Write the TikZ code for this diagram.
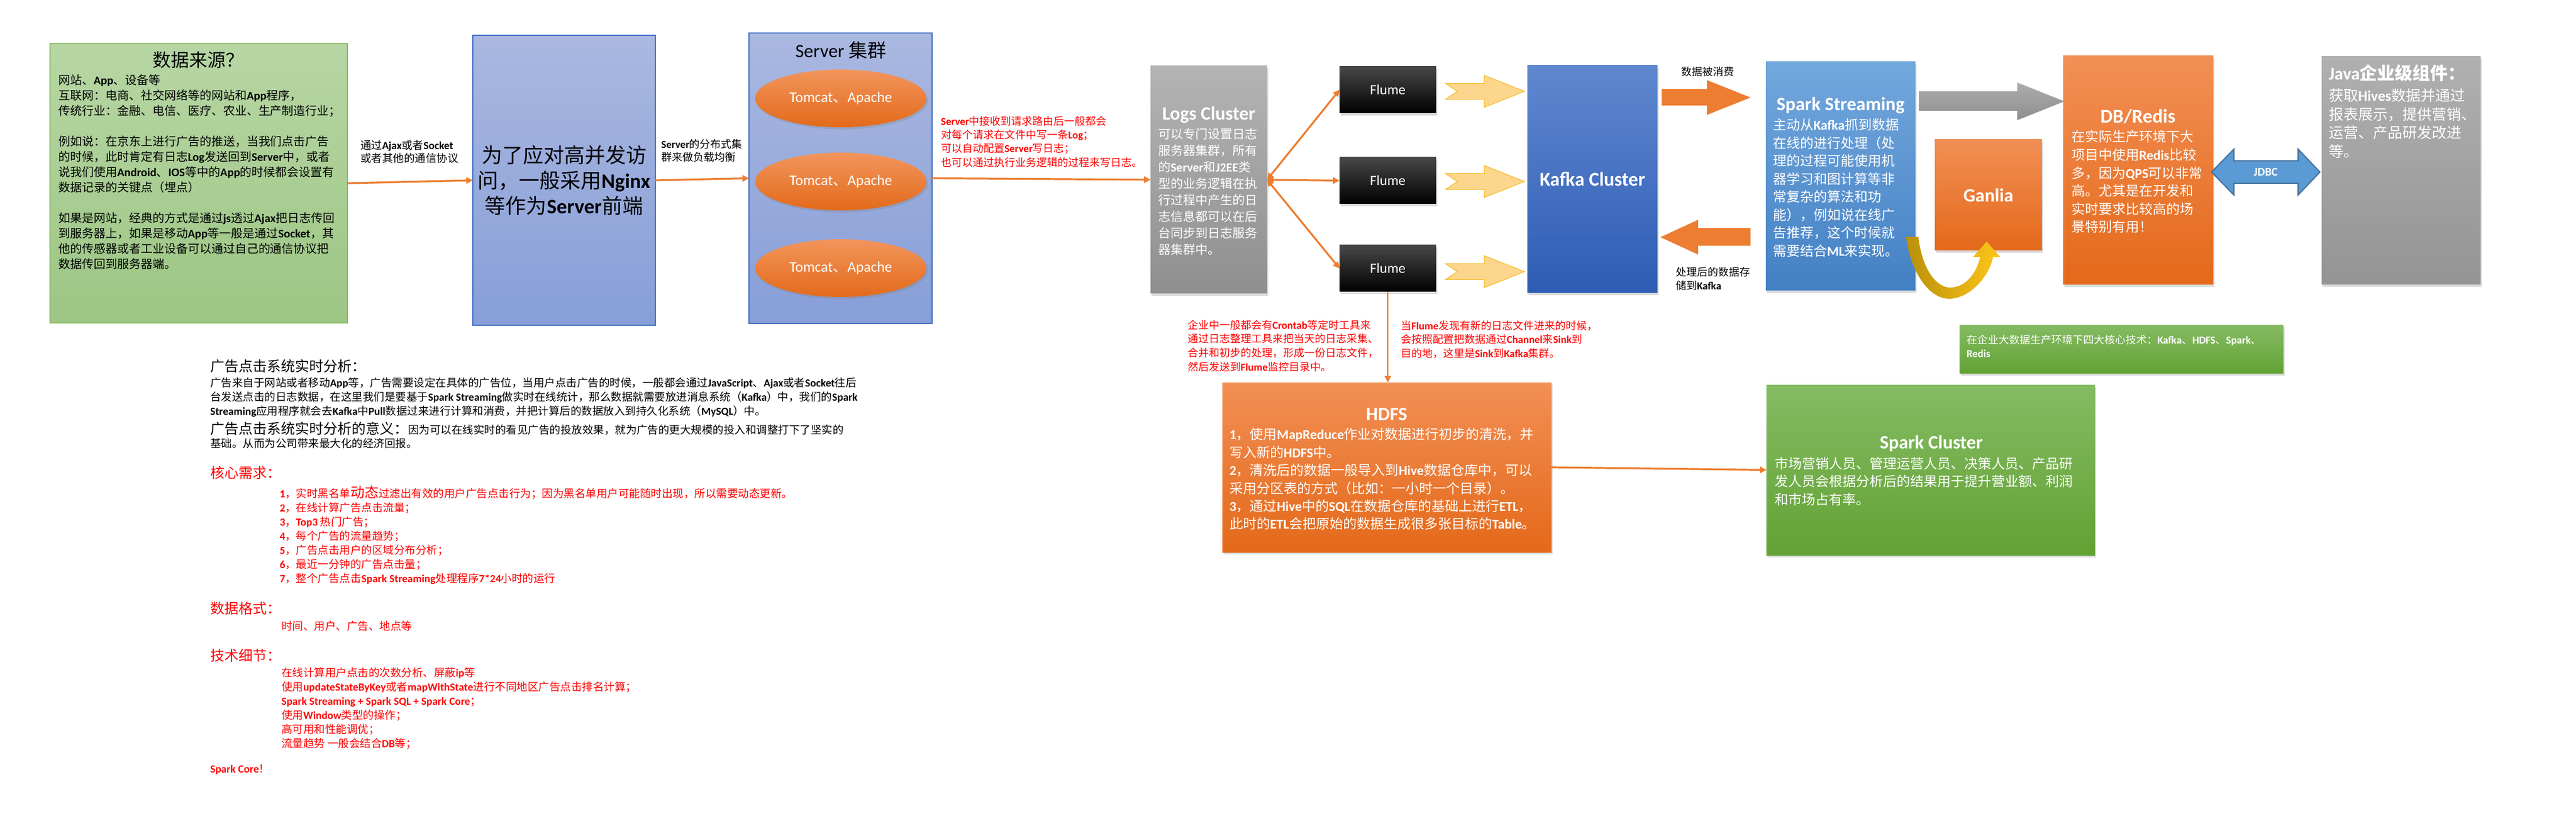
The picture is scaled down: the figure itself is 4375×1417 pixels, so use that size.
\documentclass[tikz,border=0pt]{standalone}
\usepackage{fontspec}
\setmainfont{Carlito}
\newfontfamily\cjkf{Noto Sans CJK SC}
\newfontfamily\latinf{Carlito}
\usetikzlibrary{arrows.meta,shadows,shapes.misc,shapes.geometric}
\newif\iflatbold \latboldtrue
\newif\ifcjkbold \cjkboldfalse
\def\toLatin{\latinf\iflatbold\bfseries\else\mdseries\fi}
\def\toCJK{\cjkf\ifcjkbold\bfseries\else\mdseries\fi}
\XeTeXinterchartokenstate=1
\newXeTeXintercharclass\cjkcls
\newcount\cjkn
\def\setcjkrange#1#2{\cjkn=#1\relax\loop\XeTeXcharclass\cjkn=\cjkcls\relax\advance\cjkn by 1\relax\ifnum\cjkn<#2\relax\repeat}
\setcjkrange{"4E00}{"A000}
\setcjkrange{"3000}{"3040}
\setcjkrange{"FF00}{"FFF0}
\XeTeXinterchartoks 0 \cjkcls = {\toCJK}
\XeTeXinterchartoks 4095 \cjkcls = {\toCJK}
\XeTeXinterchartoks \cjkcls 0 = {\toLatin}
\XeTeXinterchartoks 4095 0 = {\toLatin}
\newcommand\fsz[2]{\fontsize{#1pt}{#2pt}\selectfont}
\definecolor{org}{HTML}{ED7D31}
\definecolor{red0}{HTML}{FF0000}
\definecolor{srcT}{HTML}{B7D6A4}
\definecolor{srcB}{HTML}{9CC684}
\definecolor{srcD}{HTML}{88BC66}
\definecolor{bluT}{HTML}{AAB8E1}
\definecolor{bluB}{HTML}{879ED7}
\definecolor{bluD}{HTML}{4472C4}
\definecolor{ellT}{HTML}{F2955C}
\definecolor{ellB}{HTML}{E36A1A}
\definecolor{logT}{HTML}{B4B4B4}
\definecolor{logB}{HTML}{8F8F8F}
\definecolor{kafT}{HTML}{6088D0}
\definecolor{kafB}{HTML}{2D5CB4}
\definecolor{spkT}{HTML}{73A8DD}
\definecolor{spkB}{HTML}{4380C4}
\definecolor{oraT}{HTML}{F28F55}
\definecolor{oraB}{HTML}{E4691A}
\definecolor{grnT}{HTML}{85BB63}
\definecolor{grnB}{HTML}{62A234}
\definecolor{javT}{HTML}{B0B0B0}
\definecolor{javB}{HTML}{949494}
\definecolor{yelF}{HTML}{FDD68D}
\definecolor{yelD}{HTML}{F5BE2E}
\definecolor{jdbF}{HTML}{5B9BD5}
\definecolor{jdbD}{HTML}{41719C}
\definecolor{arwT}{HTML}{ADADAD}
\definecolor{arwB}{HTML}{8E8E8E}
\definecolor{uL}{HTML}{B8900A}
\definecolor{uR}{HTML}{FFC61A}
\begin{document}
\begin{tikzpicture}[x=0.5pt,y=-0.5pt,
 every node/.style={inner sep=0pt,outer sep=0pt},
 tx/.style={anchor=north west,align=left},
 sh/.style={drop shadow={shadow xshift=1.2pt,shadow yshift=-1.8pt,opacity=0.28}},
 conn/.style={draw=org,line width=1.6pt,-{Triangle[length=5.5pt,width=5.5pt]}},
 conn2/.style={draw=org,line width=1.6pt,{Triangle[length=5.5pt,width=5.5pt]}-{Triangle[length=5.5pt,width=5.5pt]}},
 srcbox/.style={rectangle,draw=srcD,line width=0.8pt,top color=srcT,bottom color=srcB},
 bluebox/.style={rectangle,draw=bluD,line width=0.7pt,top color=bluT,bottom color=bluB},
 ell/.style={ellipse,minimum width=145.5pt,minimum height=49pt,top color=ellT,bottom color=ellB,sh,text=white,font=\fsz{12.5}{14}\latboldfalse},
 graybox/.style={rectangle,top color=logT,bottom color=logB,sh},
 flumebox/.style={rectangle,minimum width=82pt,minimum height=39.5pt,top color=black!72,middle color=black,bottom color=black,sh,text=white,font=\fsz{12}{14}\latboldfalse},
 kafbox/.style={rectangle,top color=kafT,bottom color=kafB,sh},
 spkbox/.style={rectangle,top color=spkT,bottom color=spkB,sh},
 orabox/.style={rectangle,top color=oraT,bottom color=oraB,sh},
 grnbox/.style={rectangle,top color=grnT,bottom color=grnB,sh},
 javbox/.style={rectangle,top color=javT,bottom color=javB,sh},
 wtitle/.style={text=white,font=\fsz{16}{18}},
 yarrow/.style={fill=yelF,draw=yelD,line width=0.6pt},
]
\fill[white] (0,0) rectangle (4375,1417);
\useasboundingbox (0,0) rectangle (4375,1417);

% ---------- data source ----------
\node[srcbox,minimum width=252.5pt,minimum height=237pt] (src) at (337.5,311) {};
\node[font=\fsz{15.5}{18}] (srcT) at (337,102) {数据来源？};
\node[tx,font=\fsz{10}{13}] (srcB) at (99,127) {网站、App、设备等\\
互联网：电商、社交网络等的网站和App程序，\\
传统行业：金融、电信、医疗、农业、生产制造行业；\\[13pt]
例如说：在京东上进行广告的推送，当我们点击广告\\
的时候，此时肯定有日志Log发送回到Server中，或者\\
说我们使用Android、IOS等中的App的时候都会设置有\\
数据记录的关键点（埋点）\\[13pt]
如果是网站，经典的方式是通过js透过Ajax把日志传回\\
到服务器上，如果是移动App等一般是通过Socket，其\\
他的传感器或者工业设备可以通过自己的通信协议把\\
数据传回到服务器端。};

\node[tx,font=\fsz{9.25}{11}] (lab1) at (612,238) {通过Ajax或者Socket\\或者其他的通信协议};

% ---------- nginx ----------
\node[bluebox,minimum width=155pt,minimum height=246pt] (nginx) at (958,306) {};
\node[align=center,font=\fsz{17.5}{21.5}] (ngT) at (958,306) {为了应对高并发访\\问，一般采用Nginx\\等作为Server前端};
\node[tx,font=\fsz{9}{11}] (lab2) at (1123,236) {Server的分布式集\\群来做负载均衡};

% ---------- server cluster ----------
\node[bluebox,minimum width=155.5pt,minimum height=246.5pt] (servers) at (1427.5,302.5) {};
\node[font=\fsz{16}{18}\latboldfalse] (srvT) at (1428,85) {Server 集群};
\node[ell] (tc1) at (1428,167) {Tomcat、Apache};
\node[ell] (tc2) at (1428,308) {Tomcat、Apache};
\node[ell] (tc3) at (1428,455) {Tomcat、Apache};

\node[tx,text=red0,font=\fsz{9}{11.65}] (red1) at (1598,197) {Server中接收到请求路由后一般都会\\
对每个请求在文件中写一条Log；\\
可以自动配置Server写日志；\\
也可以通过执行业务逻辑的过程来写日志。};

% ---------- logs ----------
\node[graybox,minimum width=99pt,minimum height=193pt] (logs) at (2053,305) {};
\node[wtitle] (logsT) at (2053,195) {Logs Cluster};
\node[tx,text=white,font=\fsz{10.5}{14}] (logsB) at (1967,217.5) {可以专门设置日志\\服务器集群，所有\\的Server和J2EE类\\型的业务逻辑在执\\行过程中产生的日\\志信息都可以在后\\台同步到日志服务\\器集群中。};

% ---------- flume ----------
\node[flumebox] (fl1) at (2357,152.5) {Flume};
\node[flumebox] (fl2) at (2357,306.5) {Flume};
\node[flumebox] (fl3) at (2357,455.5) {Flume};
\foreach \c in {155,308,461}
  \draw[yarrow] (2455,\c-13.5) -- (2521,\c-13.5) -- (2521,\c-27) -- (2589,\c) -- (2521,\c+27) -- (2521,\c+13.5) -- (2455,\c+13.5) -- (2475,\c) -- cycle;

% ---------- kafka ----------
\node[kafbox,minimum width=110.5pt,minimum height=193pt,text=white,font=\fsz{16.5}{18}] (kafka) at (2704.5,304) {Kafka Cluster};
\node[font=\fsz{9}{11}] (lab3) at (2900,122) {数据被消费};
\node[tx,font=\fsz{9}{11.5}] (lab4) at (2846,453) {处理后的数据存\\储到Kafka};
\fill[org] (2822,151) -- (2899,151) -- (2899,136) -- (2973,165.5) -- (2899,195) -- (2899,179) -- (2822,179) -- cycle;
\fill[org] (2973,387) -- (2884,387) -- (2884,373) -- (2820,402.5) -- (2884,432) -- (2884,417) -- (2973,417) -- cycle;

% ---------- spark streaming ----------
\node[spkbox,minimum width=127pt,minimum height=194pt] (sparks) at (3126,299) {};
\node[wtitle] (sparksT) at (3126,179) {Spark Streaming};
\node[tx,text=white,font=\fsz{11.5}{15.25}] (sparksB) at (3011,201.5) {主动从Kafka抓到数据\\在线的进行处理（处\\理的过程可能使用机\\器学习和图计算等非\\常复杂的算法和功\\能），例如说在线广\\告推荐，这个时候就\\需要结合ML来实现。};

\node[orabox,minimum width=91pt,minimum height=94pt,text=white,font=\fsz{16}{18}] (ganlia) at (3377,331) {Ganlia};
\shade[left color=uL,right color=uR] (3237,402) .. controls (3247,470) and (3280,507) .. (3310,507)
  .. controls (3345,507) and (3378,470) .. (3385,436) -- (3397,436) -- (3374,410) -- (3351,436) -- (3363,436)
  .. controls (3356,468) and (3335,488) .. (3312,488) .. controls (3290,488) and (3265,460) .. (3258,402) -- cycle;

\shade[top color=arwT,bottom color=arwB] (3259,155) -- (3426,155) -- (3426,140) -- (3506,172) -- (3426,204) -- (3426,188) -- (3259,188) -- cycle;

% ---------- DB/Redis ----------
\node[orabox,minimum width=127.5pt,minimum height=194pt] (db) at (3631.5,289) {};
\node[wtitle,font=\fsz{16.5}{18}] (dbT) at (3631,198) {DB/Redis};
\node[tx,text=white,font=\fsz{11.5}{15.3}] (dbB) at (3518,221.5) {在实际生产环境下大\\项目中使用Redis比较\\多，因为QPS可以非常\\高。尤其是在开发和\\实时要求比较高的场\\景特别有用！};

\draw[fill=jdbF,draw=jdbD,line width=1pt] (3756,292) -- (3794,253) -- (3794,273) -- (3903,273) -- (3903,253) -- (3940,292) -- (3903,331) -- (3903,311) -- (3794,311) -- (3794,331) -- cycle;
\node[text=white,font=\fsz{10}{12}] (jdbcL) at (3848,292) {JDBC};

% ---------- java ----------
\node[javbox,minimum width=135pt,minimum height=193.5pt] (java) at (4078,289.5) {};
\node[tx,text=white,font=\fsz{15}{18}\cjkboldtrue] (javaT) at (3955,110) {Java企业级组件：};
\node[tx,text=white,font=\fsz{12.5}{15.85}] (javaB) at (3955,150.5) {获取Hives数据并通过\\报表展示，提供营销、\\运营、产品研发改进\\等。};

% ---------- note ----------
\node[chamfered rectangle,chamfered rectangle corners=north east,chamfered rectangle xsep=7.5pt,chamfered rectangle ysep=7pt,top color=grnT,bottom color=grnB,sh,minimum width=275pt,minimum height=41.5pt] (note) at (3603,592.5) {};
\node[tx,text=white,font=\fsz{9}{11.5}] (noteT) at (3340,568) {在企业大数据生产环境下四大核心技术：Kafka、HDFS、Spark、\\Redis};

% ---------- red notes ----------
\node[tx,text=red0,font=\fsz{9}{11.85}] (red2) at (2017,543) {企业中一般都会有Crontab等定时工具来\\
通过日志整理工具来把当天的日志采集、\\
合并和初步的处理，形成一份日志文件，\\
然后发送到Flume监控目录中。};
\node[tx,text=red0,font=\fsz{9}{11.75}] (red3) at (2379,544) {当Flume发现有新的日志文件进来的时候，\\
会按照配置把数据通过Channel来Sink到\\
目的地，这里是Sink到Kafka集群。};

% ---------- HDFS ----------
\node[orabox,minimum width=279.5pt,minimum height=144pt] (hdfs) at (2355.5,793) {};
\node[wtitle] (hdfsT) at (2355,703) {HDFS};
\node[tx,text=white,font=\fsz{11.5}{15.2}] (hdfsB) at (2088,726.5) {1，使用MapReduce作业对数据进行初步的清洗，并\\
写入新的HDFS中。\\
2，清洗后的数据一般导入到Hive数据仓库中，可以\\
采用分区表的方式（比如：一小时一个目录）。\\
3，通过Hive中的SQL在数据仓库的基础上进行ETL，\\
此时的ETL会把原始的数据生成很多张目标的Table。};

% ---------- Spark cluster ----------
\node[grnbox,minimum width=279pt,minimum height=144.5pt] (sparkc) at (3279,797.5) {};
\node[wtitle] (sparkcT) at (3280,753) {Spark Cluster};
\node[tx,text=white,font=\fsz{11.5}{15.25}] (sparkcB) at (3014,775.5) {市场营销人员、管理运营人员、决策人员、产品研\\发人员会根据分析后的结果用于提升营业额、利润\\和市场占有率。};

% ---------- left texts ----------
\node[tx,font=\fsz{12}{14}] (h1) at (357,610) {广告点击系统实时分析：};
\node[tx,font=\fsz{9.25}{12}] (p1) at (357,640.75) {广告来自于网站或者移动App等，广告需要设定在具体的广告位，当用户点击广告的时候，一般都会通过JavaScript、Ajax或者Socket往后\\
台发送点击的日志数据，在这里我们是要基于Spark Streaming做实时在线统计，那么数据就需要放进消息系统（Kafka）中，我们的Spark\\
Streaming应用程序就会去Kafka中Pull数据过来进行计算和消费，并把计算后的数据放入到持久化系统（MySQL）中。};
\node[anchor=base west,font=\fsz{12}{14}] (h2) at (357,736) {广告点击系统实时分析的意义：\fsz{9.25}{12}因为可以在线实时的看见广告的投放效果，就为广告的更大规模的投入和调整打下了坚实的};
\node[tx,font=\fsz{9.25}{12}] (p2) at (357,743.75) {基础。从而为公司带来最大化的经济回报。};

\node[tx,text=red0,font=\fsz{12}{14}] (h3) at (357,791) {核心需求：};
\node[tx,text=red0,font=\fsz{9.25}{12}] (req) at (475,824) {1，实时黑名单\fsz{12}{12}动态\fsz{9.25}{12}过滤出有效的用户广告点击行为；因为黑名单用户可能随时出现，所以需要动态更新。\\
2，在线计算广告点击流量；\\
3，Top3 热门广告；\\
4，每个广告的流量趋势；\\
5，广告点击用户的区域分布分析；\\
6，最近一分钟的广告点击量；\\
7，整个广告点击Spark Streaming处理程序7*24小时的运行};

\node[tx,text=red0,font=\fsz{12}{14}] (h4) at (357,1021) {数据格式：};
\node[tx,text=red0,font=\fsz{9.25}{12}] (fmt) at (478,1053.75) {时间、用户、广告、地点等};
\node[tx,text=red0,font=\fsz{12}{14}] (h5) at (357,1101) {技术细节：};
\node[tx,text=red0,font=\fsz{9.25}{12}] (tech) at (478,1132.75) {在线计算用户点击的次数分析、屏蔽ip等\\
使用updateStateByKey或者mapWithState进行不同地区广告点击排名计算；\\
Spark Streaming + Spark SQL + Spark Core；\\
使用Window类型的操作；\\
高可用和性能调优；\\
流量趋势 一般会结合DB等；};
\node[tx,text=red0,font=\fsz{9.25}{12}] (core) at (357,1298) {Spark Core！};

% ---------- connectors ----------
\draw[conn] (src.east) -- (nginx.west);
\draw[conn] (nginx.east) -- (servers.west);
\draw[conn] (servers.east) -- (logs.west);
\draw[conn2] (logs.east) -- (fl1.west);
\draw[conn2] (logs.east) -- (fl2.west);
\draw[conn2] (logs.east) -- (fl3.west);
\draw[conn,line width=1.2pt] (fl3.south) -- (fl3.south |- hdfs.north);
\draw[conn] (hdfs.east) -- (sparkc.west);
\end{tikzpicture}
\end{document}
